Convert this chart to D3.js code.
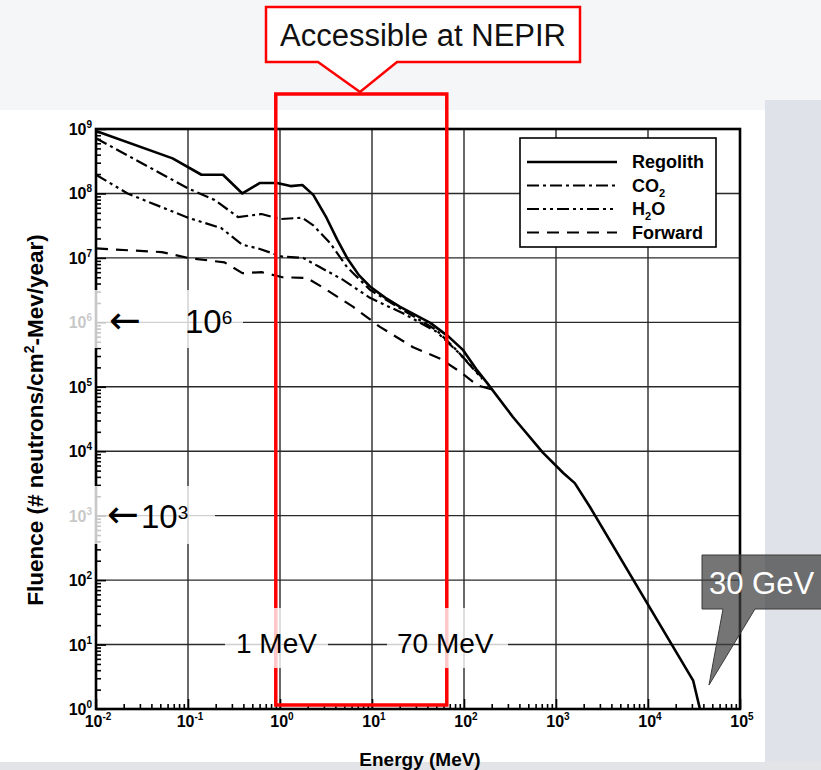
<!DOCTYPE html>
<html>
<head>
<meta charset="utf-8">
<script src="https://cdn.jsdelivr.net/npm/d3@7"></script>
<style>
  body { margin: 0; background: #eceff3; }
  svg { display: block; }
</style>
</head>
<body>
<script>
// data: [energy MeV, fluence]
var regolith = [[0.01, 9.3e8], [0.068, 3.5e8], [0.14, 1.95e8], [0.24, 1.95e8], [0.39, 1.0e8],
  [0.60, 1.45e8], [0.93, 1.45e8], [1.3, 1.3e8], [1.75, 1.35e8], [2.3, 9.5e7], [3.2, 4.2e7],
  [4.2, 1.9e7], [5.4, 9.8e6], [7.2, 5.4e6], [9.5, 3.6e6], [14, 2.4e6], [20, 1.75e6], [43, 9.8e5],
  [68, 6.0e5], [98, 3.7e5], [135, 1.9e5], [178, 1.15e5], [340, 3.4e4], [720, 9.5e3], [1200, 4.6e3],
  [1600, 3.2e3], [2350, 1.35e3], [31000, 2.75], [36700, 1.0]];
var co2 = [[0.01, 7.2e8], [0.1, 1.2e8], [0.195, 7.9e7], [0.35, 4.3e7], [0.63, 4.8e7], [1.0, 4.0e7],
  [1.74, 4.2e7], [2.3, 3.2e7], [3.5, 1.7e7], [5.35, 7.2e6], [9.5, 3.2e6], [21.7, 1.55e6],
  [50, 7.6e5], [83, 3.7e5], [158, 1.38e5]];
var h2o = [[0.01, 1.95e8], [0.022, 1.0e8], [0.1, 4.2e7], [0.23, 2.9e7], [0.39, 1.6e7], [0.58, 1.4e7],
  [1.05, 1.05e7], [1.78, 1.0e7], [2.7, 7.2e6], [4.8, 4.6e6], [9.5, 2.4e6], [21.7, 1.38e6],
  [50, 7.2e5], [89, 3.3e5], [158, 1.32e5]];
var forward = [[0.01, 1.4e7], [0.052, 1.23e7], [0.1, 1.0e7], [0.25, 8.5e6], [0.39, 5.8e6], [0.63, 6.0e6],
  [1.07, 5.0e6], [1.95, 4.9e6], [2.9, 3.5e6], [6.2, 1.75e6], [12.2, 8.5e5], [28, 4.1e5],
  [56, 2.7e5], [91, 1.7e5], [141, 1.05e5], [200, 9.1e4]];

var xExponents = [-2, -1, 0, 1, 2, 3, 4, 5];
var yExponents = [0, 1, 2, 3, 4, 5, 6, 7, 8, 9];
var accessibleRange = [0.9, 65];
var legendNames = ["Regolith", "CO2", "H2O", "Forward"];

var W = 821, H = 770;
var svg = d3.select("body").append("svg").attr("width", W).attr("height", H);

// slide background + white figure
svg.append("rect").attr("width", W).attr("height", H).attr("fill", "#f5f6f8");
svg.append("rect").attr("x", 765).attr("y", 100).attr("width", 56).attr("height", 670).attr("fill", "#dfe3e9");
svg.append("rect").attr("x", 0).attr("y", 110).attr("width", 765).attr("height", 652).attr("fill", "#fff");
svg.append("rect").attr("x", 0).attr("y", 762).attr("width", 821).attr("height", 8).attr("fill", "#e2e4e8");

var x = d3.scaleLog().domain([1e-2, 1e5]).range([96, 740]);
var y = d3.scaleLog().domain([1, 1e9]).range([709, 129]);

var chart = svg.append("g");

// grid
chart.append("g").selectAll("line").data(xExponents.slice(1, -1)).join("line")
  .attr("x1", d => x(Math.pow(10, d))).attr("x2", d => x(Math.pow(10, d)))
  .attr("y1", y(1)).attr("y2", y(1e9))
  .attr("stroke", "#2a2a2a").attr("stroke-width", 1.4);
chart.append("g").selectAll("line").data(yExponents.slice(1, -1)).join("line")
  .attr("y1", d => y(Math.pow(10, d))).attr("y2", d => y(Math.pow(10, d)))
  .attr("x1", x(1e-2)).attr("x2", x(1e5))
  .attr("stroke", "#2a2a2a").attr("stroke-width", 1.4);

// ticks
var minorX = [], minorY = [];
xExponents.slice(0, -1).forEach(function(e) { for (var k = 2; k < 10; k++) minorX.push(k * Math.pow(10, e)); });
yExponents.slice(0, -1).forEach(function(e) { for (var k = 2; k < 10; k++) minorY.push(k * Math.pow(10, e)); });

function noDomain(g) { g.select(".domain").remove(); g.selectAll("line").attr("stroke", "#000").attr("stroke-width", 1.6); }

chart.append("g").attr("transform", "translate(0," + y(1) + ")")
  .call(d3.axisBottom(x).tickValues(minorX).tickSize(-5).tickFormat("")).call(noDomain);
chart.append("g").attr("transform", "translate(0," + y(1) + ")")
  .call(d3.axisBottom(x).tickValues(xExponents.map(e => Math.pow(10, e))).tickSize(-10).tickFormat("")).call(noDomain);
chart.append("g").attr("transform", "translate(" + x(1e-2) + ",0)")
  .call(d3.axisLeft(y).tickValues(minorY).tickSize(-5).tickFormat("")).call(noDomain);
chart.append("g").attr("transform", "translate(" + x(1e-2) + ",0)")
  .call(d3.axisLeft(y).tickValues(yExponents.map(e => Math.pow(10, e))).tickSize(-10).tickFormat("")).call(noDomain);

// tick labels
var lab = "'Liberation Sans', Arial, sans-serif";
var yl = chart.append("g").selectAll("text").data(yExponents).join("text")
  .attr("x", 92).attr("y", d => y(Math.pow(10, d)) + 6)
  .attr("text-anchor", "end").attr("font-family", lab).attr("font-weight", "bold").attr("font-size", 16);
yl.append("tspan").text("10");
yl.append("tspan").attr("font-size", 10).attr("dy", -7).text(d => d);

var xl = chart.append("g").selectAll("text").data(xExponents).join("text")
  .attr("x", d => x(Math.pow(10, d)) + 2).attr("y", 727)
  .attr("text-anchor", "middle").attr("font-family", lab).attr("font-weight", "bold").attr("font-size", 16);
xl.append("tspan").text("10");
xl.append("tspan").attr("font-size", 10).attr("dy", -7).text(d => d);

// curves
var line = d3.line().x(d => x(d[0])).y(d => y(d[1]));
var styles = [
  { data: regolith, dash: null, w: 2.6 },
  { data: co2, dash: "12,4,3,4", w: 2.2 },
  { data: h2o, dash: "12,4,3,4,3,4", w: 2.2 },
  { data: forward, dash: "12,8", w: 2.2 }
];
chart.append("g").selectAll("path").data(styles).join("path")
  .attr("d", d => line(d.data)).attr("fill", "none").attr("stroke", "#000")
  .attr("stroke-linejoin", "round")
  .attr("stroke-width", d => d.w).attr("stroke-dasharray", d => d.dash);

// frame
chart.append("rect").attr("x", x(1e-2)).attr("y", y(1e9))
  .attr("width", x(1e5) - x(1e-2)).attr("height", y(1) - y(1e9))
  .attr("fill", "none").attr("stroke", "#000").attr("stroke-width", 2.6);

// legend
var leg = chart.append("g");
leg.append("rect").attr("x", 520).attr("y", 138).attr("width", 196).attr("height", 109)
  .attr("fill", "#fff").attr("stroke", "#000").attr("stroke-width", 1.6);
var li = leg.selectAll("g.item").data(legendNames).join("g").attr("class", "item")
  .attr("transform", (d, i) => "translate(0," + (162 + i * 23.5) + ")");
li.append("line").attr("x1", 527).attr("x2", 617)
  .attr("stroke", "#000").attr("stroke-width", (d, i) => styles[i].w)
  .attr("stroke-dasharray", (d, i) => styles[i].dash);
var lt = li.append("text").attr("x", 632).attr("y", 6)
  .attr("font-family", lab).attr("font-weight", "bold").attr("font-size", 18);
lt.each(function(d) {
  var t = d3.select(this);
  if (d === "CO2") { t.append("tspan").text("CO"); t.append("tspan").attr("font-size", 11).attr("dy", 5).text("2"); }
  else if (d === "H2O") { t.append("tspan").text("H"); t.append("tspan").attr("font-size", 11).attr("dy", 5).text("2");
    t.append("tspan").attr("dy", -5).text("O"); }
  else t.text(d);
});

// axis titles
svg.append("text").attr("x", 420).attr("y", 766).attr("text-anchor", "middle")
  .attr("font-family", lab).attr("font-weight", "bold").attr("font-size", 19).text("Energy (MeV)");
var yt = svg.append("text").attr("transform", "translate(43,420) rotate(-90)").attr("text-anchor", "middle")
  .attr("font-family", lab).attr("font-weight", "bold").attr("font-size", 22.5);
yt.append("tspan").text("Fluence (# neutrons/cm");
yt.append("tspan").attr("font-size", 14).attr("dy", -9).text("2");
yt.append("tspan").attr("dy", 9).text("-Mev/year)");

// accessible range box
svg.append("rect").attr("x", x(accessibleRange[0])).attr("y", 94)
  .attr("width", x(accessibleRange[1]) - x(accessibleRange[0])).attr("height", y(1) - 4 - 94)
  .attr("fill", "none").attr("stroke", "#ff0000").attr("stroke-width", 3.5);

// red callout
svg.append("path").attr("d", "M266,7 L580,7 L580,62 L397,62 L360,92 L318,62 L266,62 Z")
  .attr("fill", "#fff").attr("stroke", "#ff0000").attr("stroke-width", 2.5);
svg.append("text").attr("x", 423).attr("y", 46).attr("text-anchor", "middle")
  .attr("font-family", lab).attr("font-size", 31).attr("fill", "#111").text("Accessible at NEPIR");

// translucent annotation boxes
var ann = "'Liberation Sans', Arial, sans-serif";
var arrowFont = "'DejaVu Sans', sans-serif";
var boxes = [[55, 290, 188, 58], [55, 486, 160, 58], [225, 608, 103, 60], [387, 608, 121, 60]];
svg.append("g").selectAll("rect").data(boxes).join("rect")
  .attr("x", d => d[0]).attr("y", d => d[1]).attr("width", d => d[2]).attr("height", d => d[3])
  .attr("fill", "#fff").attr("fill-opacity", 0.78);

svg.append("text").attr("x", 109).attr("y", 333).attr("font-family", arrowFont).attr("font-size", 38).text("\u2190");
var t6 = svg.append("text").attr("x", 185).attr("y", 333).attr("font-family", ann).attr("font-size", 33);
t6.append("tspan").text("10");
t6.append("tspan").attr("font-size", 19).attr("dy", -9).text("6");
svg.append("text").attr("x", 107).attr("y", 527).attr("font-family", arrowFont).attr("font-size", 38).text("\u2190");
var t3 = svg.append("text").attr("x", 141).attr("y", 528).attr("font-family", ann).attr("font-size", 33);
t3.append("tspan").text("10");
t3.append("tspan").attr("font-size", 19).attr("dy", -9).text("3");
svg.append("text").attr("x", 236).attr("y", 653).attr("font-family", ann).attr("font-size", 28).text("1 MeV");
svg.append("text").attr("x", 397).attr("y", 653).attr("font-family", ann).attr("font-size", 28).text("70 MeV");

// 30 GeV callout
svg.append("path").attr("d", "M702,555 L823,555 L823,609 L755,609 L709,685 L723,609 L702,609 Z")
  .attr("fill", "#404040").attr("fill-opacity", 0.72).attr("stroke", "#3a3a3a").attr("stroke-width", 1);
svg.append("text").attr("x", 709).attr("y", 594).attr("font-family", ann).attr("font-size", 31)
  .attr("fill", "#fff").text("30 GeV");
</script>
</body>
</html>
